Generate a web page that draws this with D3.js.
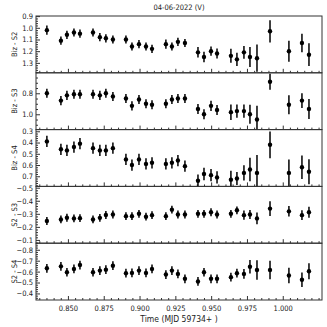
<!DOCTYPE html>
<html>
<head>
<meta charset="utf-8">
<script src="https://cdn.jsdelivr.net/npm/d3@7"></script>
<style>
  body { margin: 0; background: #fff; }
  text { font-family: "DejaVu Sans Condensed", "DejaVu Sans", sans-serif; fill: #222; }
  .axis text { font-size: 7.5px; }
  .axis line { stroke: #333; }
  .axis path { display: none; }
</style>
</head>
<body>
<div id="chart"></div>
<script>
// time in MJD 59734+
var time = [0.8353, 0.8451, 0.8493, 0.8542, 0.8584, 0.8675, 0.8723, 0.8765, 0.8814, 0.8905,
            0.8947, 0.8996, 0.9045, 0.9087, 0.9184, 0.9226, 0.9268, 0.9317, 0.9408, 0.9450,
            0.9499, 0.9541, 0.9638, 0.9680, 0.9729, 0.9771, 0.9820, 0.9911, 1.0043, 1.0134, 1.0183];

var bizS2 = [1.02, 1.11, 1.06, 1.04, 1.05, 1.04, 1.08, 1.09, 1.10, 1.10, 1.16, 1.14, 1.16, 1.18, 1.14, 1.16,
             1.12, 1.13, 1.21, 1.25, 1.20, 1.22, 1.24, 1.27, 1.21, 1.25, 1.26, 1.03, 1.20, 1.13, 1.23];
var bizS2Err = [0.04, 0.035, 0.035, 0.035, 0.035, 0.035, 0.035, 0.035, 0.035, 0.035, 0.035, 0.035, 0.035, 0.035, 0.04, 0.035,
                0.035, 0.035, 0.045, 0.045, 0.04, 0.042, 0.06, 0.057, 0.054, 0.085, 0.117, 0.095, 0.09, 0.08, 0.097];

var bizS3 = [0.80, 0.87, 0.82, 0.81, 0.81, 0.81, 0.82, 0.80, 0.83, 0.85, 0.92, 0.86, 0.90, 0.91, 0.90, 0.86,
             0.85, 0.85, 0.95, 1.00, 0.92, 0.96, 0.98, 0.97, 0.97, 1.00, 1.05, 0.69, 0.91, 0.87, 0.95];
var bizS3Err = [0.043, 0.043, 0.043, 0.043, 0.043, 0.043, 0.043, 0.043, 0.043, 0.043, 0.043, 0.043, 0.043, 0.043, 0.043, 0.043,
                0.043, 0.043, 0.048, 0.048, 0.048, 0.048, 0.074, 0.064, 0.064, 0.09, 0.13, 0.076, 0.09, 0.071, 0.095];

var bizS4 = [0.39, 0.46, 0.47, 0.44, 0.41, 0.45, 0.47, 0.47, 0.45, 0.55, 0.60, 0.55, 0.59, 0.58, 0.59, 0.58,
             0.56, 0.61, 0.74, 0.68, 0.69, 0.71, 0.73, 0.72, 0.67, 0.64, 0.67, 0.42, 0.67, 0.62, 0.66];
var bizS4Err = [0.05, 0.05, 0.05, 0.05, 0.05, 0.05, 0.05, 0.05, 0.05, 0.05, 0.05, 0.05, 0.05, 0.05, 0.05, 0.05,
                0.05, 0.05, 0.055, 0.055, 0.055, 0.055, 0.079, 0.057, 0.067, 0.105, 0.159, 0.119, 0.119, 0.105, 0.111];

var s2S3 = [-0.245, -0.257, -0.270, -0.265, -0.267, -0.257, -0.269, -0.291, -0.295, -0.282, -0.282, -0.300, -0.278, -0.290, -0.282, -0.332,
            -0.295, -0.295, -0.300, -0.300, -0.312, -0.295, -0.300, -0.327, -0.290, -0.295, -0.265, -0.340, -0.319, -0.290, -0.312];
var s2S3Err = [0.03, 0.03, 0.03, 0.03, 0.03, 0.03, 0.03, 0.03, 0.03, 0.03, 0.03, 0.03, 0.03, 0.03, 0.03, 0.03,
               0.03, 0.03, 0.03, 0.03, 0.03, 0.03, 0.03, 0.03, 0.035, 0.035, 0.045, 0.056, 0.04, 0.037, 0.043];

var s2S4 = [-0.630, -0.648, -0.594, -0.624, -0.660, -0.594, -0.609, -0.618, -0.654, -0.585, -0.588, -0.609, -0.588, -0.624, -0.573, -0.609,
            -0.579, -0.534, -0.510, -0.594, -0.534, -0.534, -0.549, -0.585, -0.579, -0.645, -0.615, -0.615, -0.564, -0.525, -0.603];
var s2S4Err = [0.04, 0.04, 0.04, 0.04, 0.04, 0.04, 0.04, 0.04, 0.04, 0.04, 0.04, 0.04, 0.04, 0.04, 0.04, 0.04,
               0.04, 0.04, 0.04, 0.04, 0.04, 0.04, 0.04, 0.04, 0.045, 0.062, 0.089, 0.085, 0.071, 0.067, 0.074];

var xTicks = [0.850, 0.875, 0.900, 0.925, 0.950, 0.975, 1.000];

var panelLabels = ["Biz - S2", "Biz - S3", "Biz - S4", "S2 - S3", "S2 - S4"];
var panelValues = [bizS2, bizS3, bizS4, s2S3, s2S4];
var panelErrors = [bizS2Err, bizS3Err, bizS4Err, s2S3Err, s2S4Err];
var panelDomains = [[0.899, 1.385], [0.605, 1.146], [0.285, 0.79], [-0.51, -0.075], [-0.86, -0.34]];
var panelMajor = [[0.9, 1.0, 1.1, 1.2, 1.3], [0.8, 1.0], [0.3, 0.4, 0.5, 0.6, 0.7],
                  [-0.5, -0.4, -0.3, -0.2, -0.1], [-0.8, -0.7, -0.6, -0.5, -0.4]];
var panelMinorStep = [0.02, 0.05, 0.02, 0.02, 0.02];

var W = 327, H = 327;
var margin = {left: 36, right: 5, top: 16, bottom: 27};
var plotW = W - margin.left - margin.right,
    plotH = H - margin.top - margin.bottom,
    panelH = plotH / 5;

var svg = d3.select("#chart").append("svg")
    .attr("width", W).attr("height", H);

var xScale = d3.scaleLinear().domain([0.8277, 1.0274]).range([margin.left, margin.left + plotW]);
var xMinor = d3.range(0.830, 1.0271, 0.005).filter(function(v) {
    return xTicks.every(function(t) { return Math.abs(t - v) > 1e-6; });
});

// title
svg.append("text")
    .attr("x", margin.left + plotW / 2).attr("y", 10)
    .attr("text-anchor", "middle")
    .style("font-size", "7.5px")
    .text("04-06-2022  (V)");

panelValues.forEach(function(vals, i) {
    var top = margin.top + i * panelH, bottom = top + panelH;
    var yScale = d3.scaleLinear().domain(panelDomains[i]).range([top, bottom]);
    var dom = panelDomains[i];
    var step = panelMinorStep[i];
    var yMinor = d3.range(Math.ceil(dom[0] / step) * step, dom[1], step).filter(function(v) {
        return panelMajor[i].every(function(t) { return Math.abs(t - v) > 1e-6; });
    });

    var g = svg.append("g");

    g.append("clipPath").attr("id", "clip" + i)
      .append("rect")
        .attr("x", margin.left).attr("y", top)
        .attr("width", plotW).attr("height", panelH);

    // y axis major / minor (inward)
    g.append("g").attr("class", "axis")
        .attr("transform", "translate(" + margin.left + ",0)")
        .call(d3.axisLeft(yScale).tickValues(panelMajor[i]).tickSize(-4).tickPadding(3)
              .tickFormat(d3.format(".1f")));
    g.append("g").attr("class", "axis")
        .attr("transform", "translate(" + margin.left + ",0)")
        .call(d3.axisLeft(yScale).tickValues(yMinor).tickSize(-2).tickFormat(""));

    // x axis major / minor at bottom of every panel (inward)
    var xAx = d3.axisBottom(xScale).tickValues(xTicks).tickSize(-4).tickPadding(6)
        .tickFormat(i === 4 ? d3.format(".3f") : "");
    g.append("g").attr("class", "axis")
        .attr("transform", "translate(0," + bottom + ")")
        .call(xAx);
    g.append("g").attr("class", "axis")
        .attr("transform", "translate(0," + bottom + ")")
        .call(d3.axisBottom(xScale).tickValues(xMinor).tickSize(-2).tickFormat(""));

    // frame
    g.append("rect")
        .attr("x", margin.left).attr("y", top)
        .attr("width", plotW).attr("height", panelH)
        .attr("fill", "none").attr("stroke", "#333").attr("stroke-width", 1);

    // y label
    g.append("text")
        .attr("transform", "translate(14," + (top + panelH / 2) + ") rotate(-90)")
        .attr("text-anchor", "middle")
        .attr("dy", "0.35em")
        .style("font-size", "7.5px")
        .text(panelLabels[i]);

    var pts = g.append("g").attr("clip-path", "url(#clip" + i + ")");

    pts.selectAll("line.err")
        .data(vals)
        .enter().append("line")
        .attr("class", "err")
        .attr("x1", function(d, j) { return xScale(time[j]); })
        .attr("x2", function(d, j) { return xScale(time[j]); })
        .attr("y1", function(d, j) { return yScale(d - panelErrors[i][j]); })
        .attr("y2", function(d, j) { return yScale(d + panelErrors[i][j]); })
        .attr("stroke", "#000")
        .attr("stroke-width", 1.5);

    pts.selectAll("circle")
        .data(vals)
        .enter().append("circle")
        .attr("cx", function(d, j) { return xScale(time[j]); })
        .attr("cy", function(d) { return yScale(d); })
        .attr("r", 2.2)
        .attr("fill", "#000");
});

// x label
svg.append("text")
    .attr("x", margin.left + plotW / 2).attr("y", 322)
    .attr("text-anchor", "middle")
    .style("font-size", "8.5px")
    .text("Time (MJD 59734+ )");
</script>
</body>
</html>
